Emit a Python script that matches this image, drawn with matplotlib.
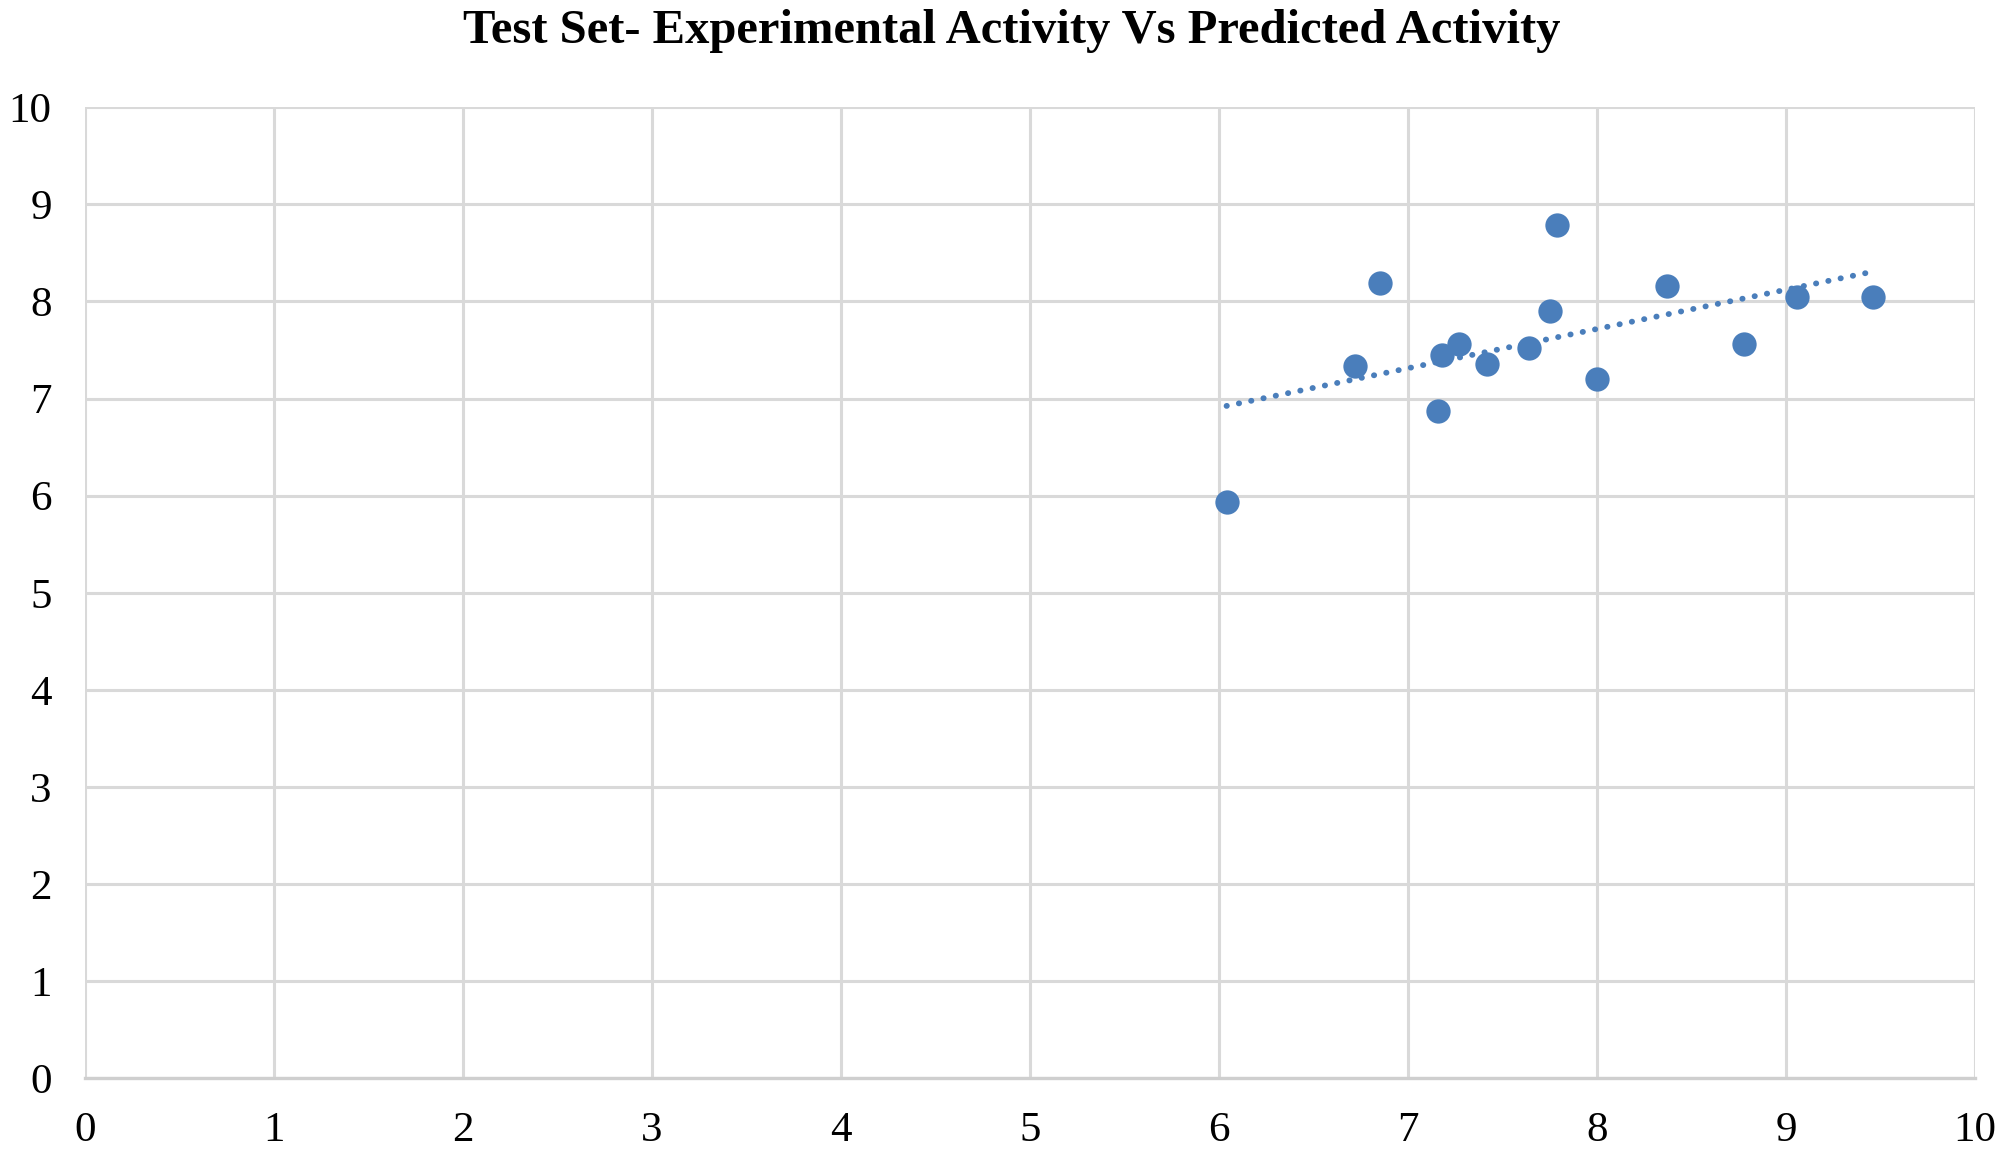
import numpy as np
from matplotlib import pyplot as plt

plt.rcParams["font.family"] = ["Liberation Serif", "DejaVu Serif"]

# experimental activity (x) vs predicted activity (y)
experimental = [6.04, 6.72, 6.85, 7.16, 7.18, 7.27, 7.42, 7.64, 7.75, 7.79, 8.00, 8.37, 8.78, 9.06, 9.46]
predicted    = [5.93, 7.34, 8.19, 6.87, 7.45, 7.56, 7.36, 7.52, 7.90, 8.79, 7.20, 8.16, 7.56, 8.05, 8.05]
ticks = list(range(0, 11))

blue = "#4a7ebb"
grid = "#d9d9d9"

fig = plt.figure(figsize=(20, 11.51), dpi=100)
ax = fig.add_axes([0.0425, 0.0632, 0.945, 0.8436])

ax.scatter(experimental, predicted, s=17.5**2, color=blue, zorder=3, linewidths=0)

# linear trendline over data range
x = np.array(experimental)
k, b = np.polyfit(x, predicted, 1)
xs = np.array([x.min(), x.max()])
ax.plot(xs, k*xs + b, color=blue, lw=4.2, linestyle=(0, (0.05, 2.1)),
        dash_capstyle="round", zorder=2)

ax.set_xlim(0, 10)
ax.set_ylim(0, 10)
ax.set_xticks(ticks)
ax.set_yticks(ticks)
ax.grid(True, color=grid, lw=2.2)
ax.set_axisbelow(True)
for side in ["top", "right", "left"]:
    ax.spines[side].set_visible(False)
ax.spines["bottom"].set_color("#cfcfcf")
ax.spines["bottom"].set_linewidth(2.4)
ax.tick_params(length=0, labelsize=31, pad=24)

fig.text(0.506, 0.973, "Test Set- Experimental Activity Vs Predicted Activity",
         ha="center", va="center", fontsize=35, fontweight="bold")

fig.savefig("out.png")
